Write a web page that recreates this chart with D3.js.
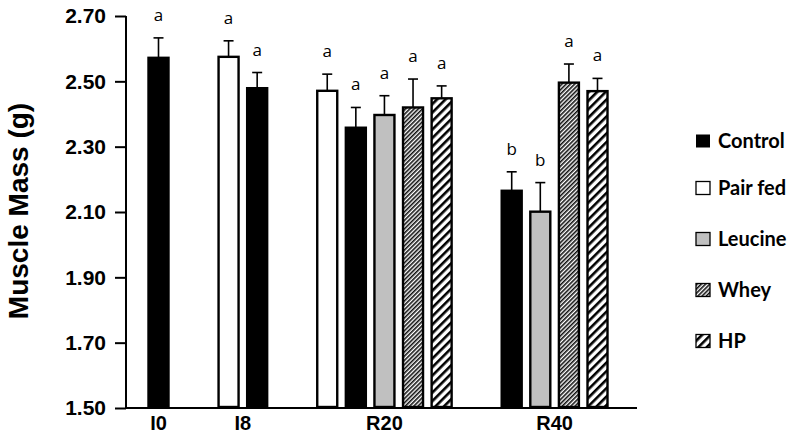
<!DOCTYPE html>
<html>
<head>
<meta charset="utf-8">
<style>
  body { margin: 0; background: #fff; }
  svg { display: block; }
</style>
</head>
<body>
<svg id="chart" width="796" height="438"></svg>
<script src="https://d3js.org/d3.v7.min.js"></script>
<script>

var groups = ["I0", "I8", "R20", "R40"];
var seriesNames = ["Control", "Pair fed", "Leucine", "Whey", "HP"];

// one entry per bar, in drawing order
var barGroup  = ["I0", "I8", "I8", "R20", "R20", "R20", "R20", "R20", "R40", "R40", "R40", "R40"];
var barSeries = ["Control", "Pair fed", "Control", "Pair fed", "Control", "Leucine", "Whey", "HP",
                 "Control", "Leucine", "Whey", "HP"];
var barMean   = [2.572, 2.575, 2.479, 2.471, 2.358, 2.397, 2.420, 2.448, 2.165, 2.101, 2.496, 2.470];
var barSem    = [0.061, 0.049, 0.048, 0.051, 0.062, 0.059, 0.087, 0.038, 0.058, 0.089, 0.057, 0.039];
var barLetter = ["a", "a", "a", "a", "a", "a", "a", "a", "b", "b", "a", "a"];

var yTicks = [1.50, 1.70, 1.90, 2.10, 2.30, 2.50, 2.70];

var svg = d3.select("#chart");

var defs = svg.append("defs");

// fine hatch for Whey
var pw = defs.append("pattern")
    .attr("id", "hatch-whey")
    .attr("patternUnits", "userSpaceOnUse")
    .attr("width", 3).attr("height", 3)
    .attr("patternTransform", "rotate(45)");
pw.append("rect").attr("width", 3).attr("height", 3).attr("fill", "#fff");
pw.append("rect").attr("width", 1.6).attr("height", 3).attr("fill", "#111");

// wide hatch for HP
var ph = defs.append("pattern")
    .attr("id", "hatch-hp")
    .attr("patternUnits", "userSpaceOnUse")
    .attr("width", 6).attr("height", 6)
    .attr("patternTransform", "rotate(45)");
ph.append("rect").attr("width", 6).attr("height", 6).attr("fill", "#fff");
ph.append("rect").attr("width", 2.6).attr("height", 6).attr("fill", "#000");

var fills = {
  "Control": "#000",
  "Pair fed": "#fff",
  "Leucine": "#c0c0c0",
  "Whey": "url(#hatch-whey)",
  "HP": "url(#hatch-hp)"
};

// slot index per bar: bars sit one unit apart, groups separated by a wider gap
var groupGap = 1.45;
var slots = [];
(function() {
  var pos = 0, prev = null;
  barGroup.forEach(function(g, i) {
    if (prev !== null) pos += (g === prev ? 1 : groupGap + 1);
    slots.push(pos);
    prev = g;
  });
})();

var x = d3.scaleLinear()
    .domain([0, d3.max(slots)])
    .range([158.5, 597.5]);

var y = d3.scaleLinear()
    .domain([1.50, 2.70])
    .range([408, 16]);

var barW = 20;
var axisX = 126;

// bars
var bars = svg.append("g");
barMean.forEach(function(m, i) {
  var cx = x(slots[i]);
  bars.append("rect")
      .attr("x", cx - barW / 2)
      .attr("y", y(m))
      .attr("width", barW)
      .attr("height", y(1.50) - y(m) - 1)
      .attr("fill", fills[barSeries[i]])
      .attr("stroke", "#000")
      .attr("stroke-width", 2.4);

  var top = y(m + barSem[i]);
  bars.append("line")
      .attr("x1", cx).attr("x2", cx)
      .attr("y1", y(m)).attr("y2", top)
      .attr("stroke", "#000").attr("stroke-width", 1.6);
  bars.append("line")
      .attr("x1", cx - 5).attr("x2", cx + 5)
      .attr("y1", top).attr("y2", top)
      .attr("stroke", "#000").attr("stroke-width", 1.6);

  bars.append("text")
      .attr("x", cx)
      .attr("y", top - 17)
      .attr("text-anchor", "middle")
      .style("font-family", "'Open Sans', sans-serif")
      .style("font-size", "17px")
      .text(barLetter[i]);
});

// y axis
var yAxis = d3.axisLeft(y)
    .tickValues(yTicks)
    .tickFormat(d3.format(".2f"))
    .tickSize(11)
    .tickPadding(9);

var ya = svg.append("g")
    .attr("transform", "translate(" + axisX + ",0)")
    .call(yAxis);
ya.select(".domain").attr("stroke-width", 2).attr("d", "M0," + y(1.50) + "V" + y(2.70));
ya.selectAll(".tick line").attr("stroke-width", 2);
ya.selectAll(".tick text")
    .style("font-family", "'Liberation Sans', Arial, sans-serif")
    .style("font-weight", "bold")
    .style("font-size", "21px")
    .attr("fill", "#000");

// x axis line
svg.append("line")
    .attr("x1", axisX).attr("x2", 637)
    .attr("y1", y(1.50)).attr("y2", y(1.50))
    .attr("stroke", "#000").attr("stroke-width", 2);

// group labels
groups.forEach(function(g) {
  var xs = slots.filter(function(s, i) { return barGroup[i] === g; });
  var cx = x(d3.mean(xs));
  svg.append("text")
      .attr("x", cx)
      .attr("y", 430)
      .attr("text-anchor", "middle")
      .style("font-family", "'Liberation Sans', Arial, sans-serif")
      .style("font-weight", "bold")
      .style("font-size", "20px")
      .text(g);
});

// y title
svg.append("text")
    .attr("transform", "translate(28,211) rotate(-90)")
    .attr("text-anchor", "middle")
    .style("font-family", "'Liberation Sans', Arial, sans-serif")
    .style("font-weight", "bold")
    .style("font-size", "28px")
    .text("Muscle Mass (g)");

// legend
var legendY = [141, 188, 239, 290, 341];
var legend = svg.append("g");
seriesNames.forEach(function(s, i) {
  legend.append("rect")
      .attr("x", 696)
      .attr("y", legendY[i] - 6.5)
      .attr("width", 14)
      .attr("height", 13)
      .attr("fill", fills[s])
      .attr("stroke", "#000")
      .attr("stroke-width", s === "Control" ? 0 : 1.3);
  legend.append("text")
      .attr("x", 718)
      .attr("y", legendY[i])
      .attr("dy", "0.35em")
      .style("font-family", "Lato, sans-serif")
      .style("font-weight", "bold")
      .style("font-size", "20px")
      .text(s);
});

</script>
</body>
</html>
